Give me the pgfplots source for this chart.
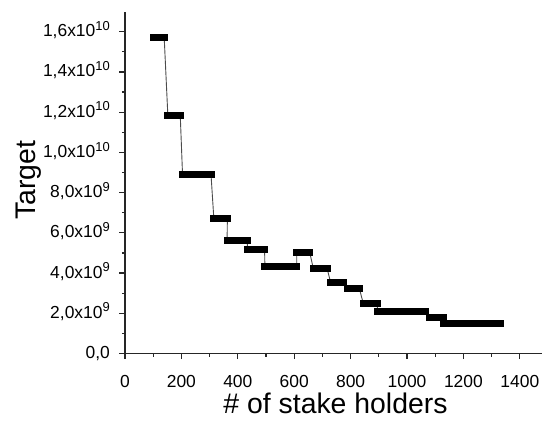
\documentclass[border=0pt]{standalone}
\usepackage{fontspec}
\setmainfont{Liberation Sans}
\usepackage{pgfplots}
\pgfplotsset{compat=1.18}
\newcommand{\ex}[1]{\smash{\raisebox{6.3bp}{\fontsize{13}{13}\selectfont #1}}}
\begin{document}
\begin{tikzpicture}
\begin{axis}[
  scale only axis, width=417.4bp, height=341.9bp,
  xmin=0, xmax=1480, ymin=0, ymax=1.7e10,
  axis lines=left,
  axis line style={line width=1.2bp, black!85, -},
  every outer x axis line/.append style={-},
  every outer y axis line/.append style={-},
  tick align=outside,
  major tick length=5.5bp, minor tick length=3bp,
  tick style={line width=1.2bp, black!85},
  xtick={0,200,...,1400},
  xticklabels={0,200,400,600,800,1000,1200,1400},
  minor x tick num=1,
  ytick={0,2e9,4e9,6e9,8e9,1e10,1.2e10,1.4e10,1.6e10},
  yticklabels={{0,0},{2,0x10\ex{9}},{4,0x10\ex{9}},{6,0x10\ex{9}},{8,0x10\ex{9}},{1,0x10\ex{10}},{1,2x10\ex{10}},{1,4x10\ex{10}},{1,6x10\ex{10}}},
  minor y tick num=1,
  scaled y ticks=false, scaled x ticks=false,
  ticklabel style={font=\fontsize{17.5}{17.5}\selectfont},
  xticklabel style={anchor=north, inner sep=0pt, yshift=-15.8bp},
  yticklabel style={anchor=east, inner sep=0pt, xshift=-9.5bp},
  xlabel={\# of stake holders},
  ylabel={Target},
  label style={font=\fontsize{28.5}{28.5}\selectfont},
  xlabel style={at={([xshift=1.8bp,yshift=-59.8bp]axis description cs:0.5,0)}, anchor=base},
  ylabel style={at={([xshift=-89bp,yshift=2.5bp]axis description cs:0,0.5)}, rotate=0, anchor=base},
]
\addplot[draw=black!70, line width=0.9bp, forget plot] coordinates {
(101,1.571e10)(139,1.571e10)
(152,1.182e10)(196,1.182e10)
(204,8.90e9)(305,8.90e9)
(315,6.71e9)(363,6.71e9)
(362,5.62e9)(433,5.62e9)
(435,5.16e9)(495,5.16e9)
(496,4.32e9)(609,4.32e9)
(609,5.02e9)(655,5.02e9)
(668,4.21e9)(717,4.21e9)
(729,3.53e9)(776,3.53e9)
(788,3.23e9)(831,3.23e9)
(845,2.48e9)(895,2.48e9)
(895,2.08e9)(1067,2.08e9)
(1081,1.78e9)(1128,1.78e9)
(1130,1.48e9)(1330,1.48e9)
};
\addplot[draw=black, line width=7bp, line cap=rect, unbounded coords=jump, forget plot] coordinates {
(101,1.571e10)(139,1.571e10)(139,nan)
(152,1.182e10)(196,1.182e10)(196,nan)
(204,8.90e9)(305,8.90e9)(305,nan)
(315,6.71e9)(363,6.71e9)(363,nan)
(362,5.62e9)(433,5.62e9)(433,nan)
(435,5.16e9)(495,5.16e9)(495,nan)
(496,4.32e9)(609,4.32e9)(609,nan)
(609,5.02e9)(655,5.02e9)(655,nan)
(668,4.21e9)(717,4.21e9)(717,nan)
(729,3.53e9)(776,3.53e9)(776,nan)
(788,3.23e9)(831,3.23e9)(831,nan)
(845,2.48e9)(895,2.48e9)(895,nan)
(895,2.08e9)(1067,2.08e9)(1067,nan)
(1081,1.78e9)(1128,1.78e9)(1128,nan)
(1130,1.48e9)(1330,1.48e9)
};
\end{axis}
\pgfresetboundingbox
\path[use as bounding box] ([xshift=-125bp,yshift=-70.5bp]current axis.south west) rectangle ([xshift=0.6bp,yshift=11.6bp]current axis.north east);
\end{tikzpicture}
\end{document}
